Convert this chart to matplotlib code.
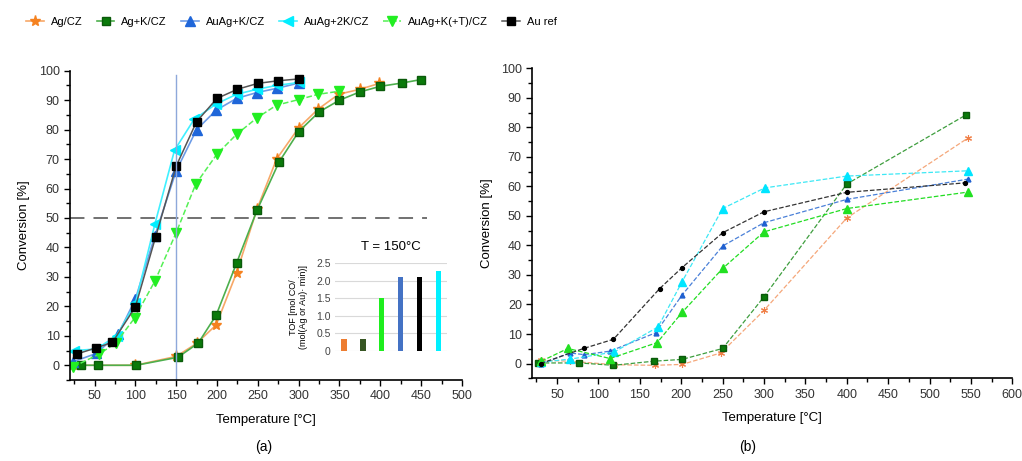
import matplotlib
matplotlib.use("Agg")
import matplotlib.pyplot as plt
from matplotlib.ticker import MultipleLocator

plt.rcParams['font.family'] = ['Liberation Sans', 'DejaVu Sans']

# ---- panel (a): conversion vs temperature ----
T_ag = [24, 100, 150, 175, 199, 224, 249, 273, 300, 324, 349, 375, 399]
C_ag = [0, 0, 3, 7.4, 13.7, 31.4, 53, 70, 80.6, 87, 92, 93.7, 95.7]

T_agk = [34, 54, 101, 152, 177, 199, 224, 249, 276, 300, 325, 350, 375, 400, 426, 450]
C_agk = [0, 0, 0, 2.7, 7.5, 17, 34.7, 52.6, 69, 79.3, 86, 90, 92.8, 94.7, 95.8, 97]

T_auagk = [24, 52, 79, 100, 124, 150, 175, 199, 224, 249, 273, 300]
C_auagk = [1.2, 4, 10.6, 22.4, 44, 66, 80, 86.6, 90.6, 92.6, 94, 95.8]

T_auag2k = [25, 52, 77, 100, 124, 148, 172, 199, 224, 249, 273, 300]
C_auag2k = [5, 5.5, 10, 21, 48, 73, 83.5, 88.7, 92, 93.7, 95, 96]

T_auagkt = [24, 55, 76, 99, 124, 150, 174, 200, 224, 249, 273, 300, 324, 349]
C_auagkt = [-0.5, 3.7, 7.5, 16, 28.6, 45, 61.5, 71.7, 78.4, 84, 88.3, 90.2, 92, 93]

T_au = [28, 52, 72, 100, 125, 150, 175, 200, 225, 250, 275, 300]
C_au = [3.8, 5.9, 7.8, 19.8, 43.7, 67.6, 82.7, 90.6, 93.7, 95.7, 96.6, 97.2]

# inset: TOF at 150 C
tof = [0.33, 0.33, 1.5, 2.1, 2.1, 2.28]
tof_colors = ['#ED7D31', '#375623', '#1EEE1E', '#4472C4', '#000000', '#00F0FF']

# ---- panel (b) ----
Tb_ag = [31, 65, 119, 168, 201, 248, 300, 400, 546]
Cb_ag = [1.1, 0.8, -0.4, -0.6, -0.3, 3.6, 18, 49.3, 76.3]

Tb_agk = [27, 77, 118, 167, 201, 250, 300, 400, 544]
Cb_agk = [0.2, 0.2, -0.6, 0.8, 1.4, 5.1, 22.6, 60.8, 84.2]

Tb_auagk = [30, 65, 83, 114, 169, 201, 250, 300, 400, 547]
Cb_auagk = [-0.3, 3.6, 3.0, 4.2, 10.4, 23.2, 39.8, 47.7, 55.6, 62.5]

Tb_auag2k = [31, 66, 119, 172, 201, 250, 301, 400, 547]
Cb_auag2k = [0.5, 1.5, 3.9, 12.4, 27.7, 52.5, 59.5, 63.5, 65.3]

Tb_auagkt = [31, 63, 114, 171, 201, 250, 300, 400, 547]
Cb_auagkt = [0.8, 5.1, 1.7, 7.1, 17.3, 32.2, 44.6, 52.5, 58.1]

Tb_au = [30, 82, 118, 174, 201, 250, 300, 400, 543]
Cb_au = [0, 5.1, 8.2, 25.4, 32.5, 44.3, 51.4, 58, 61.2]

fig = plt.figure(figsize=(10.22, 4.61), dpi=100)
ax1 = fig.add_axes([0.0685, 0.1757, 0.3835, 0.6709])
ax2 = fig.add_axes([0.5208, 0.1794, 0.4697, 0.6724])

h1, = ax1.plot(T_ag, C_ag, '-', color='#F7A868', lw=1.2, marker='*', ms=8,
               mfc='#F58220', mec='#F58220', label='Ag/CZ')
h2, = ax1.plot(T_agk, C_agk, '-', color='#4DAF4D', lw=1.2, marker='s', ms=5.5,
               mfc='#0A7A0A', mec='#0A5A0A', label='Ag+K/CZ')
h3, = ax1.plot(T_auagk, C_auagk, '-', color='#6C9BE6', lw=1.2, marker='^', ms=6.5,
               mfc='#1F66D9', mec='#1F66D9', label='AuAg+K/CZ')
h4, = ax1.plot(T_auag2k, C_auag2k, '-', color='#40F0FF', lw=1.2, marker='<', ms=6.5,
               mfc='#00EEFF', mec='#00EEFF', label='AuAg+2K/CZ')
h5, = ax1.plot(T_auagkt, C_auagkt, '--', color='#55F055', lw=1.1, marker='v', ms=6.5,
               mfc='#22EE22', mec='#22EE22', label='AuAg+K(+T)/CZ')
h6, = ax1.plot(T_au, C_au, '-', color='#555555', lw=1.1, marker='s', ms=6,
               mfc='#000000', mec='#000000', label='Au ref')

ax1.axhline(50, xmin=0, xmax=0.91, color='#666666', lw=1.3, ls=(0, (8, 5)))
ax1.axvline(150, ymin=0, ymax=0.985, color='#8EA8DA', lw=1)

for ax in (ax1, ax2):
    ax.spines['top'].set_visible(False)
    ax.spines['right'].set_visible(False)
    ax.spines['left'].set_linewidth(1.2)
    ax.spines['bottom'].set_linewidth(1.2)
    ax.set_ylim(-5, 100)
    ax.yaxis.set_major_locator(MultipleLocator(10))
    ax.yaxis.set_minor_locator(MultipleLocator(5))
    ax.xaxis.set_major_locator(MultipleLocator(50))
    ax.xaxis.set_minor_locator(MultipleLocator(25))
    ax.tick_params(which='major', direction='out', length=4, width=1, labelsize=9,
                   labelcolor='#333333')
    ax.tick_params(which='minor', direction='out', length=3, width=1)
    ax.set_ylabel('Conversion [%]', fontsize=9.5, labelpad=6)
    ax.set_xlabel('Temperature [°C]', fontsize=9.5, labelpad=8)

ax1.set_xlim(20, 500)
ax2.set_xlim(20, 600)

# inset bar chart
axi = fig.add_axes([0.3278, 0.2386, 0.1096, 0.190])
axi.bar(range(len(tof)), tof, width=0.28, color=tof_colors)
axi.set_xlim(-0.48, 5.46)
axi.set_ylim(0, 2.5)
axi.set_yticks([0, 0.5, 1.0, 1.5, 2.0, 2.5])
axi.set_yticklabels(['0', '0.5', '1.0', '1.5', '2.0', '2.5'])
axi.set_xticks([])
axi.tick_params(axis='y', length=0, labelsize=7.5, pad=3, labelcolor='#444444')
axi.grid(axis='y', color='#D9D9D9', lw=0.8)
axi.set_axisbelow(True)
for s in axi.spines.values():
    s.set_visible(False)
axi.set_title('T = 150°C', fontsize=9.5, pad=10)
axi.set_ylabel('TOF [mol CO/\n(mol(Ag or Au)· min)]', fontsize=6.5, labelpad=6)

# panel (b)
ax2.plot(Tb_ag, Cb_ag, '--', color='#F5A77A', lw=0.9, marker=(6, 2, 0), ms=5,
         mec='#F08048', mfc='#F08048', mew=0.8)
ax2.plot(Tb_agk, Cb_agk, '--', color='#3E9E3E', lw=0.9, marker='s', ms=4.5,
         mfc='#0A7A0A', mec='#0A5A0A')
ax2.plot(Tb_auagk, Cb_auagk, '--', color='#4A80D8', lw=0.9, marker='^', ms=3.5,
         mfc='#1F60D0', mec='#1F60D0')
ax2.plot(Tb_auag2k, Cb_auag2k, '--', color='#3DE8F5', lw=0.9, marker='^', ms=5.5,
         mfc='#00E5FF', mec='#00E5FF')
ax2.plot(Tb_auagkt, Cb_auagkt, '--', color='#22DD22', lw=0.9, marker='^', ms=5.5,
         mfc='#22E022', mec='#22E022')
ax2.plot(Tb_au, Cb_au, '--', color='#333333', lw=0.9, marker='o', ms=2.8,
         mfc='#000000', mec='#000000')

fig.legend(handles=[h1, h2, h3, h4, h5, h6], loc='center', bbox_to_anchor=(0.285, 0.952),
           ncol=6, frameon=False, fontsize=8, handlelength=1.6, handletextpad=0.6,
           columnspacing=1.3)

fig.text(0.258, 0.03, '(a)', ha='center', va='center', fontsize=10)
fig.text(0.732, 0.03, '(b)', ha='center', va='center', fontsize=10)

fig.savefig('out.png', dpi=100)
